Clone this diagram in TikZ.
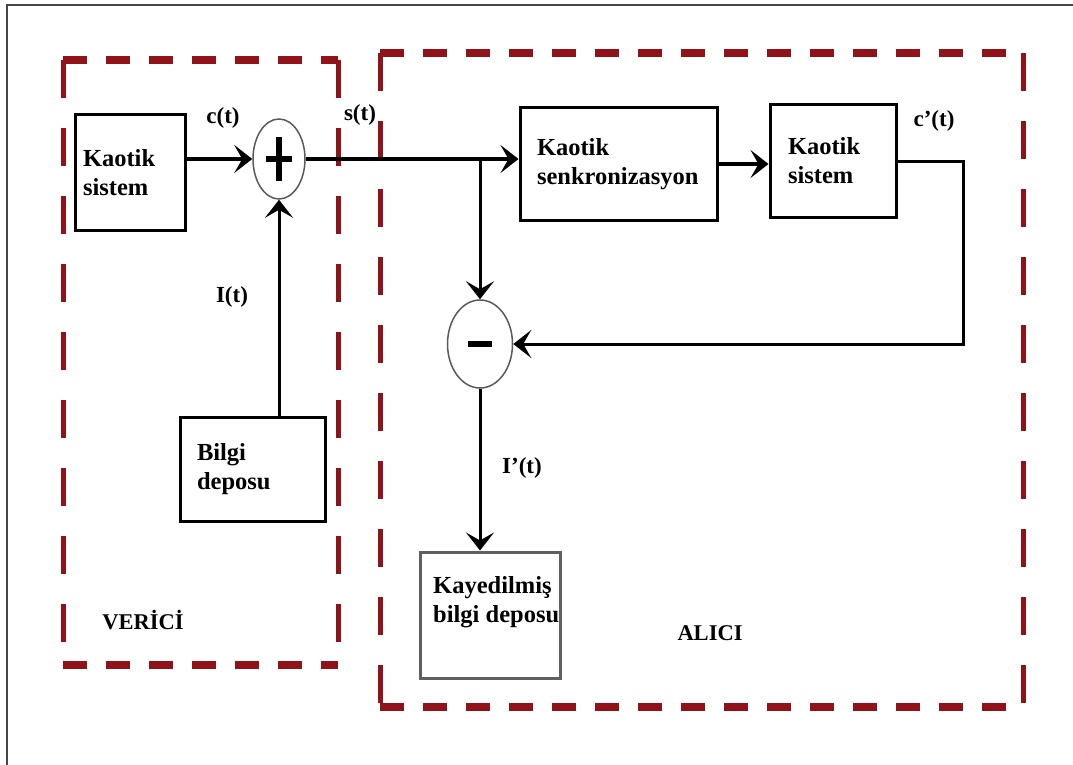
\documentclass[tikz,border=0pt]{standalone}
\usepackage{fontspec}
\setmainfont{Liberation Serif}
\usetikzlibrary{arrows.meta,shapes.geometric}
\definecolor{dred}{RGB}{145,18,24}
\definecolor{framegray}{RGB}{70,70,70}
\newcommand\boxfont{\bfseries\fontsize{24.5}{29}\selectfont}
\newcommand\lblfont{\bfseries\fontsize{23}{26}\selectfont}
\begin{document}
\begin{tikzpicture}[x=1pt,y=-1pt,
  blk/.style={draw=black, line width=3pt, rectangle, align=left, font=\boxfont, inner ysep=0pt},
  sumnode/.style={ellipse, draw=gray!70!black, line width=1.5pt, inner sep=0pt},
  conn/.style={line width=3pt, draw=black, line join=miter,
     -{Stealth[length=18pt,width=28pt,inset=8pt]}},
  thickconn/.style={conn, line width=4.5pt},
  lbl/.style={font=\lblfont, inner sep=0pt},
  hdash/.style={draw=dred, line width=8pt, dash pattern=on 24pt off 19pt},
  vdash/.style={draw=dred, line width=5pt, dash pattern=on 38pt off 30pt}]
\useasboundingbox (0,0) rectangle (1073,765);
\fill[white] (0,0) rectangle (1073,765);

% outer frame (cropped)
\draw[line width=1.5pt, framegray] (7,765) -- (7,5) -- (1073,5);

% dashed regions
\draw[hdash] (63,60) -- (338,60);
\draw[hdash] (63,665) -- (338,665);
\draw[vdash] (63,60) -- (63,665);
\draw[vdash] (338,60) -- (338,665);

\draw[hdash] (380,53) -- (1023,53);
\draw[hdash] (380,707) -- (1023,707);
\draw[vdash] (380,53) -- (380,707);
\draw[vdash] (1023,53) -- (1023,707);

% blocks
\node[blk, text width=94pt, inner xsep=8pt, minimum height=115pt] (ks1) at (130,172.5) {Kaotik\\sistem};
\node[blk, text width=163pt, inner xsep=17pt, minimum height=112pt] (sync) at (618.5,164) {Kaotik\\senkronizasyon};
\node[blk, text width=90pt, inner xsep=18pt, minimum height=112pt] (ks2) at (833,161) {Kaotik\\sistem};
\node[blk, text width=111pt, inner xsep=17pt, minimum height=104pt] (bilgi) at (252.5,469) {Bilgi\\deposu};
\node[draw=gray!75!black, line width=3pt, rectangle, minimum width=140pt, minimum height=126pt, inner sep=0pt] (kay) at (490,615) {};
\node[anchor=north west, align=left, font=\boxfont, inner sep=0pt] (kaytxt) at (433,576) {Kayedilmiş\\bilgi deposu};

% summing junctions
\node[sumnode, minimum width=52pt, minimum height=80pt] (sum) at (279,159) {};
\draw[line width=5.5pt] ([xshift=-13pt]sum.center) -- ([xshift=13pt]sum.center);
\draw[line width=5.5pt] ([yshift=-22pt]sum.center) -- ([yshift=22pt]sum.center);
\node[sumnode, minimum width=65pt, minimum height=88pt] (minus) at (480,344) {};
\draw[line width=6pt] ([xshift=-12pt]minus.center) -- ([xshift=12pt]minus.center);

% connectors
\draw[thickconn] (sum.west -| ks1.east) -- (sum.west);
\draw[thickconn] (sum.east) -- (sum.east -| sync.west);
\coordinate (br) at (minus.north |- sum.east);
\draw[conn] (br) -- (minus.north);
\draw[thickconn, line width=4pt] (sync.east) -- (sync.east -| ks2.west);
\coordinate (fbx) at (963,250);
\draw[conn] (ks2.east) -| (fbx) |- (minus.east);
\draw[conn] (sum.south |- bilgi.north) -- (sum.south);
\draw[conn] (minus.south) -- (minus.south |- kay.north);

% labels
\node[lbl] (lc) at (223,118) {c(t)};
\node[lbl] (ls) at (360,115) {s(t)};
\node[lbl] (lcp) at (934,121) {c’(t)};
\node[lbl] (li) at (232,297) {I(t)};
\node[lbl] (lip) at (522,468) {I’(t)};
\node[font=\bfseries\fontsize{22.5}{26}\selectfont, inner sep=0pt] (ver) at (143,620) {VERİCİ};
\node[font=\bfseries\fontsize{22.5}{26}\selectfont, inner sep=0pt] (alc) at (710,633) {ALICI};
\end{tikzpicture}
\end{document}
